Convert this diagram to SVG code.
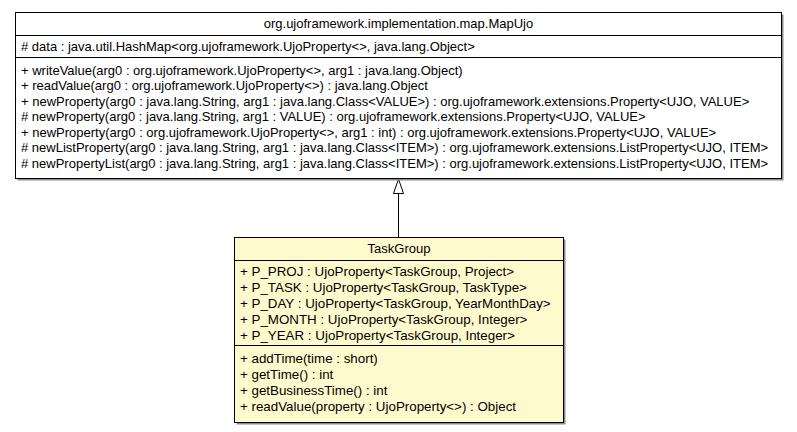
<svg xmlns="http://www.w3.org/2000/svg" width="797" height="432" viewBox="0 0 797 432">
<style>
text{font-family:"Liberation Sans",Arial,sans-serif;font-size:13px;fill:#000}
.t text{font-size:13.35px}
.c{text-anchor:middle}
.box{stroke:#000;stroke-width:1}
.shadow{fill:#8c8c8c}
.sep{stroke:#000;stroke-width:1}
.edge{stroke:#000;stroke-width:1;fill:none}
.head{fill:#fff;stroke:#000;stroke-width:1}
</style>
<rect width="797" height="432" fill="#fff"/>
<g id="connectors">
<line class="edge" x1="398.5" y1="237" x2="398.5" y2="193"/>
<polygon class="head" points="398.5,179 393.5,193.5 403.5,193.5"/>
</g>
<g id="MapUjo">
<rect class="shadow" x="17.5" y="14.5" width="766" height="166"/>
<rect class="box" x="15.5" y="12.5" width="766" height="166" fill="#fff"/>
<line class="sep" x1="15.5" y1="35.5" x2="781.5" y2="35.5"/>
<line class="sep" x1="15.5" y1="57.5" x2="781.5" y2="57.5"/>
<text class="c" x="398.5" y="28">org.ujoframework.implementation.map.MapUjo</text>
<text x="21" y="51">#  data : java.util.HashMap&lt;org.ujoframework.UjoProperty&lt;&gt;, java.lang.Object&gt;</text>
<text x="21" y="74.5">+ writeValue(arg0 : org.ujoframework.UjoProperty&lt;&gt;, arg1 : java.lang.Object)</text>
<text x="21" y="90">+ readValue(arg0 : org.ujoframework.UjoProperty&lt;&gt;) : java.lang.Object</text>
<text x="21" y="105.5">+ newProperty(arg0 : java.lang.String, arg1 : java.lang.Class&lt;VALUE&gt;) : org.ujoframework.extensions.Property&lt;UJO, VALUE&gt;</text>
<text x="21" y="121">#  newProperty(arg0 : java.lang.String, arg1 : VALUE) : org.ujoframework.extensions.Property&lt;UJO, VALUE&gt;</text>
<text x="21" y="136.5">+ newProperty(arg0 : org.ujoframework.UjoProperty&lt;&gt;, arg1 : int) : org.ujoframework.extensions.Property&lt;UJO, VALUE&gt;</text>
<text x="21" y="152">#  newListProperty(arg0 : java.lang.String, arg1 : java.lang.Class&lt;ITEM&gt;) : org.ujoframework.extensions.ListProperty&lt;UJO, ITEM&gt;</text>
<text x="21" y="167.5">#  newPropertyList(arg0 : java.lang.String, arg1 : java.lang.Class&lt;ITEM&gt;) : org.ujoframework.extensions.ListProperty&lt;UJO, ITEM&gt;</text>
</g>
<g id="TaskGroup" class="t">
<rect class="shadow" x="236.5" y="239.5" width="329" height="185"/>
<rect class="box" x="234.5" y="237.5" width="329" height="185" fill="#fffacd"/>
<line class="sep" x1="234.5" y1="260.5" x2="563.5" y2="260.5"/>
<line class="sep" x1="234.5" y1="345.5" x2="563.5" y2="345.5"/>
<text class="c" x="399" y="253" style="font-size:13px">TaskGroup</text>
<text x="240" y="275.5">+ P_PROJ : UjoProperty&lt;TaskGroup, Project&gt;</text>
<text x="240" y="291.5">+ P_TASK : UjoProperty&lt;TaskGroup, TaskType&gt;</text>
<text x="240" y="307.5">+ P_DAY : UjoProperty&lt;TaskGroup, YearMonthDay&gt;</text>
<text x="240" y="323.5">+ P_MONTH : UjoProperty&lt;TaskGroup, Integer&gt;</text>
<text x="240" y="339.5">+ P_YEAR : UjoProperty&lt;TaskGroup, Integer&gt;</text>
<text x="240" y="362.5">+ addTime(time : short)</text>
<text x="240" y="378.5">+ getTime() : int</text>
<text x="240" y="394.5">+ getBusinessTime() : int</text>
<text x="240" y="410.5">+ readValue(property : UjoProperty&lt;&gt;) : Object</text>
</g>
</svg>
